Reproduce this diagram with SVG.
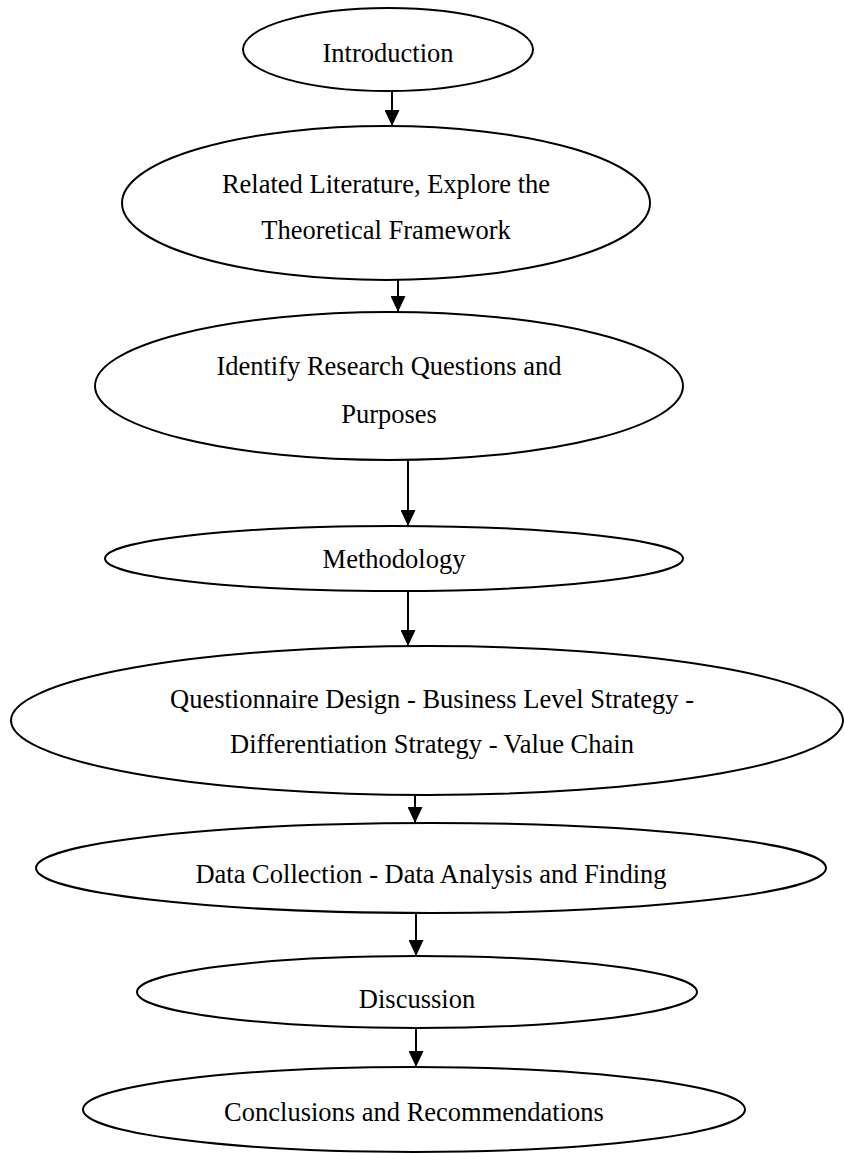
<svg xmlns="http://www.w3.org/2000/svg" width="844" height="1153" viewBox="0 0 844 1153">
<style>
.n{fill:#fff;stroke:#000;stroke-width:2}
.t{font-family:"Liberation Serif","Times New Roman",serif;font-size:26.5px;fill:#000;text-anchor:middle}
.c{stroke:#000;stroke-width:2;fill:none;marker-end:url(#ah)}
</style>
<defs>
<marker id="ah" markerUnits="userSpaceOnUse" markerWidth="16" markerHeight="15" viewBox="0 0 16 15" refX="16" refY="7.5" orient="auto">
<path d="M0,0 L16,7.5 L0,15 Z" fill="#000"/>
</marker>
</defs>
<rect width="844" height="1153" fill="#fff"/>
<g id="connectors">
<line class="c" x1="392" y1="91" x2="392" y2="126"/>
<line class="c" x1="398" y1="280" x2="398" y2="312"/>
<line class="c" x1="408" y1="460" x2="408" y2="526"/>
<line class="c" x1="408" y1="591" x2="408" y2="646"/>
<line class="c" x1="415" y1="795" x2="415" y2="823"/>
<line class="c" x1="416" y1="913" x2="416" y2="956"/>
<line class="c" x1="416" y1="1028" x2="416" y2="1067"/>
</g>
<g id="introduction"><ellipse class="n" cx="388" cy="49.5" rx="145" ry="41.5"/><text class="t" x="388" y="62">Introduction</text></g>
<g id="literature"><ellipse class="n" cx="386" cy="203" rx="264" ry="77"/><text class="t" x="386" y="193">Related Literature, Explore the</text><text class="t" x="386" y="239">Theoretical Framework</text></g>
<g id="questions"><ellipse class="n" cx="389" cy="386" rx="294" ry="74"/><text class="t" x="389" y="375">Identify Research Questions and</text><text class="t" x="389" y="423">Purposes</text></g>
<g id="methodology"><ellipse class="n" cx="394" cy="558.5" rx="289" ry="32.5"/><text class="t" x="394" y="568">Methodology</text></g>
<g id="questionnaire"><ellipse class="n" cx="427" cy="720.5" rx="416" ry="74.5"/><text class="t" x="432" y="708">Questionnaire Design - Business Level Strategy -</text><text class="t" x="432" y="753">Differentiation Strategy - Value Chain</text></g>
<g id="data"><ellipse class="n" cx="431" cy="868" rx="395" ry="45"/><text class="t" x="431" y="883">Data Collection - Data Analysis and Finding</text></g>
<g id="discussion"><ellipse class="n" cx="417" cy="992" rx="280" ry="36"/><text class="t" x="417" y="1008">Discussion</text></g>
<g id="conclusions"><ellipse class="n" cx="414" cy="1109.5" rx="331" ry="42.5"/><text class="t" x="414" y="1121">Conclusions and Recommendations</text></g>
</svg>
